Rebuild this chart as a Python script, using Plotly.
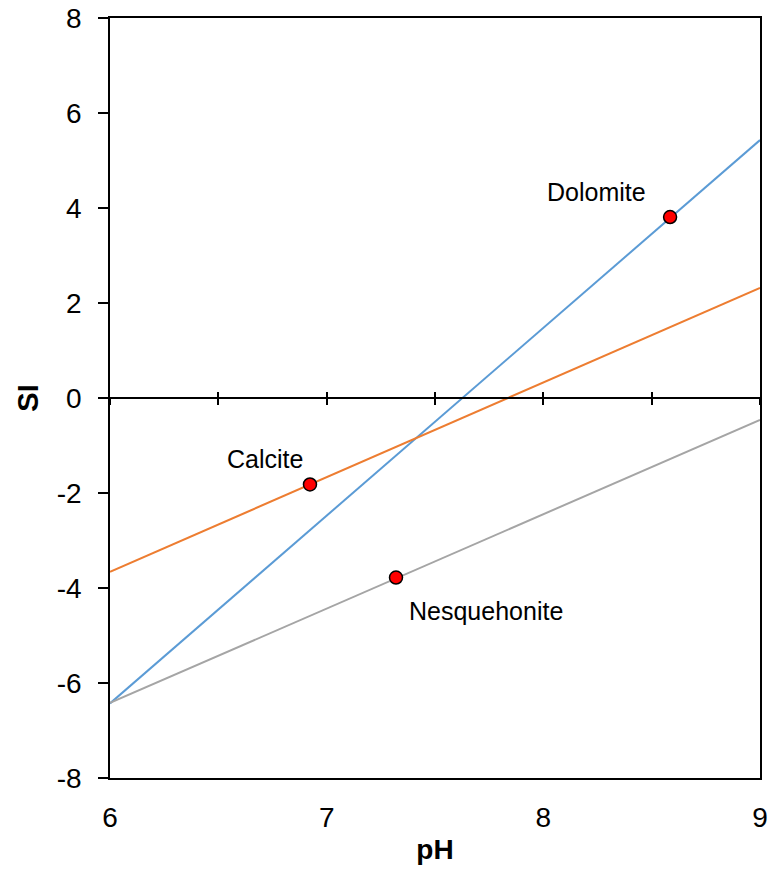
import plotly.graph_objects as go

# Data
ph_ends = [6, 9]
dolomite_line = [-6.43, 5.43]
calcite_line = [-3.66, 2.32]
nesq_line = [-6.42, -0.46]

point_names = ["Dolomite", "Calcite", "Nesquehonite"]
point_ph = [8.585, 6.923, 7.32]
point_si = [3.81, -1.82, -3.78]

x_ticks = [6, 7, 8, 9]
y_ticks = [-8, -6, -4, -2, 0, 2, 4, 6, 8]
y_tick_text = ["-8", "-6", "-4", "-2", "0", "2", "4", "6", "8"]

FONT = "Liberation Sans, Arial, sans-serif"

fig = go.Figure()
fig.add_trace(go.Scatter(x=ph_ends, y=dolomite_line, mode="lines",
                         line=dict(color="#5B9BD5", width=2), showlegend=False))
fig.add_trace(go.Scatter(x=ph_ends, y=calcite_line, mode="lines",
                         line=dict(color="#ED7D31", width=2), showlegend=False))
fig.add_trace(go.Scatter(x=ph_ends, y=nesq_line, mode="lines",
                         line=dict(color="#A5A5A5", width=2), showlegend=False))
fig.add_trace(go.Scatter(x=point_ph, y=point_si, mode="markers",
                         marker=dict(color="#FF0000", size=13,
                                     line=dict(color="black", width=1.5)),
                         showlegend=False, cliponaxis=False))
# empty traces so the crossing axis at SI = 0 is drawn
fig.add_trace(go.Scatter(x=[None], y=[None], xaxis="x2", showlegend=False, hoverinfo="skip"))
fig.add_trace(go.Scatter(x=[None], y=[None], xaxis="x3", showlegend=False, hoverinfo="skip"))

shifts = {"Dolomite": (-74, 25), "Calcite": (-45, 25), "Nesquehonite": (90, -33)}
for n, x, y in zip(point_names, point_ph, point_si):
    dx, dy = shifts[n]
    fig.add_annotation(x=x, y=y, text=n, showarrow=False, xshift=dx, yshift=dy,
                       font=dict(family=FONT, size=25, color="black"))

cross = dict(overlaying="x", matches="x", range=[6, 9], anchor="free", position=0.5,
             tick0=6, dtick=0.5, ticklen=6, tickwidth=1.5, tickcolor="black",
             showticklabels=False, showgrid=False, zeroline=False, automargin=False)

fig.update_layout(
    width=769, height=870,
    margin=dict(l=110, r=9, t=18, b=92),
    plot_bgcolor="white", paper_bgcolor="white",
    font=dict(family=FONT, color="black"),
    xaxis=dict(range=[6, 9], tickvals=x_ticks, ticks="", showgrid=False,
               zeroline=False, showline=True, mirror=True, linecolor="black",
               linewidth=1.5, tickfont=dict(size=28), ticklabelstandoff=14,
               automargin=False,
               title=dict(text="<b>pH</b>", font=dict(size=28), standoff=7)),
    yaxis=dict(range=[-8, 8], tickvals=y_ticks, ticktext=y_tick_text,
               ticks="outside", ticklen=10,
               tickwidth=1.5, tickcolor="black", showgrid=False, zeroline=False,
               showline=True, mirror=True, linecolor="black", linewidth=1.5,
               tickfont=dict(size=28), ticklabelstandoff=11, domain=[0, 1],
               automargin=False,
               title=dict(text="<b>SI</b>", font=dict(size=29), standoff=10)),
    xaxis2=dict(cross, ticks="outside", showline=True, linecolor="black", linewidth=1.5),
    xaxis3=dict(cross, ticks="inside", showline=False),
)
fig.write_html("out.html", config={"displayModeBar": False},
               post_script="document.body.style.margin='0';")
